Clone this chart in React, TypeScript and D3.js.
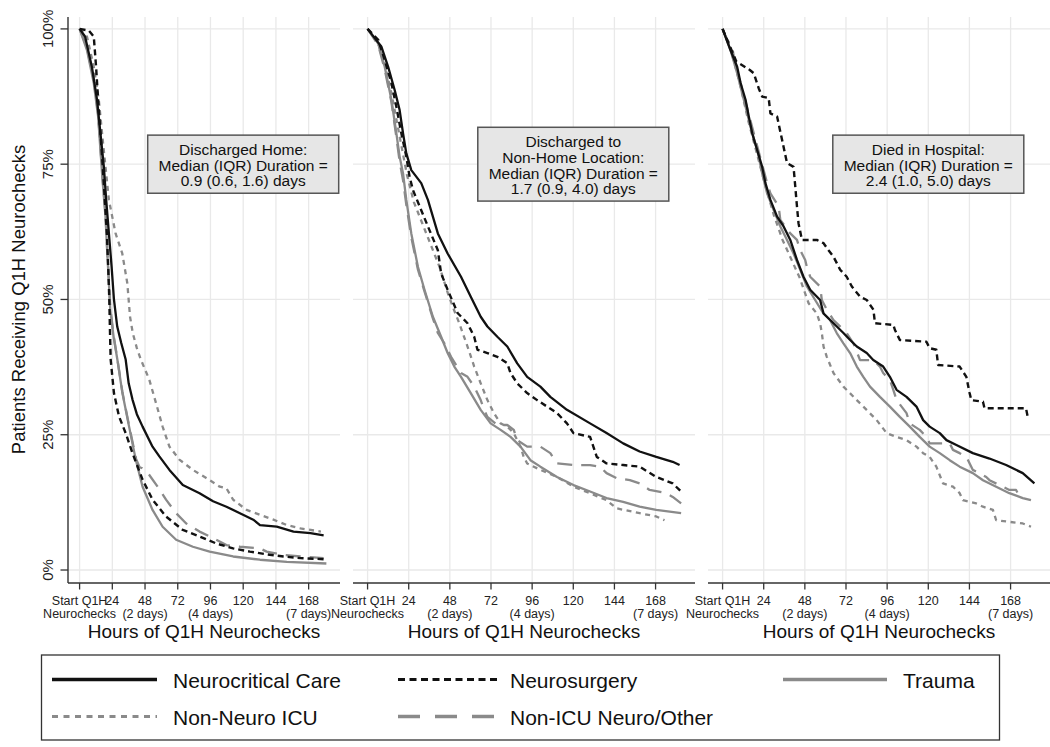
import React from "react";
import * as d3 from "d3";

// ---------- axis ticks ----------
const hourTicks = [0, 24, 48, 72, 96, 120, 144, 168];
const hourLabelTop = ["Start Q1H", "24", "48", "72", "96", "120", "144", "168"];
const hourLabelBottom = ["Neurochecks", "", "(2 days)", "", "(4 days)", "", "", "(7 days)"];
const pctTicks = [0, 25, 50, 75, 100];
const pctLabels = ["0%", "25%", "50%", "75%", "100%"];

const xTitle = "Hours of Q1H Neurochecks";
const yTitle = "Patients Receiving Q1H Neurochecks";

// ---------- series (hours, % still receiving) ----------
// Panel 1: Discharged Home
const homeNcc = [[0,100],[4,98.6],[9,93],[12.8,86.9],[15.3,80.7],[17.8,74.5],[19.5,68.4],[21.5,62.2],[23.5,56],[25.2,50],[27.6,45],[30.5,42],[33.8,38.9],[36,34.5],[38.8,31.5],[42,28.8],[46.2,26.5],[53.5,22.8],[58.5,21],[65.9,18.5],[75.7,15.7],[88,14.2],[97.9,12.7],[107.7,11.7],[117.6,10.5],[127.4,9.3],[132.3,8.3],[144.6,8],[156.9,7.1],[169.3,6.8],[179,6.4]];
const homeNs = [[0,100],[6.7,99.7],[10.4,98.6],[12.1,93],[13.6,86.9],[15.3,80.7],[17,74.5],[18.5,68.4],[20,62.2],[21,56],[21.8,50],[22.3,44],[22.8,38.9],[25.2,32.7],[28.9,28.4],[33.8,25.3],[38.8,21.6],[46.2,16.7],[53.5,13],[63.4,9.9],[75.7,7.4],[88,6.2],[100.3,4.9],[112.6,4],[124.9,3.4],[137.2,2.9],[149.6,2.5],[161.9,2.2],[179,2]];
const homeTr = [[0,100],[5.4,96.1],[10.4,90],[13.6,83.8],[15.3,77.6],[17,71.5],[19,65.3],[20.2,59.1],[21.5,53],[22.5,48],[25,43],[27.7,38.9],[31.4,32.7],[36.3,26.5],[41.2,20.4],[46.2,15.4],[53.5,11.1],[60.9,8],[70.8,5.6],[83.1,4.3],[95.4,3.4],[112.6,2.5],[132.3,1.9],[152,1.5],[181,1.2]];
const homeNni = [[0,100],[5.4,98.6],[10.4,93],[14.1,86.9],[16.5,80.7],[19,74.5],[21.5,68.4],[26.4,62.2],[31.3,58.5],[35,53],[37,46.8],[39,43.8],[42,41],[44.9,38.9],[51.1,35.2],[56,30.9],[60.9,26.5],[65.9,22.8],[73.2,20.4],[83.1,18.5],[92.9,17],[102.8,15.4],[107.7,15.1],[112.6,13],[122.5,11.1],[132.3,10.2],[142.2,9.3],[152,8.3],[161.9,7.7],[177,7.1]];
const homeNicu = [[0,100],[5.4,96.5],[10.4,90.5],[13.6,84.3],[15.3,78],[17,72],[19,65.8],[20.2,59.5],[21.5,53.5],[22.5,48.5],[25,43.3],[27.7,39],[31.4,32.9],[36.3,26.7],[41.5,20.5],[44,19],[46,18.8],[51,17.6],[57.2,15.4],[63.4,13],[70.8,10.5],[78.2,8.6],[88,7.1],[97.9,5.9],[107.7,4.6],[117.6,4.3],[132.3,4],[137.2,3.4],[149.6,2.8],[161.9,2.5],[179,2.2]];

// Panel 2: Discharged to Non-Home Location
const nonHomeNcc = [[0,100],[8.1,96.7],[12,93],[15.8,88.7],[18.7,85],[20.7,80.7],[22.6,77],[25.5,73.9],[31.3,71.5],[35.2,68.4],[41,62.2],[46.7,58.5],[54.5,54.2],[60.2,50.5],[66,46.8],[69.9,45],[75.7,43.1],[81.5,41.3],[87.3,38.2],[93.1,35.7],[100.8,33.9],[106.6,32],[116.3,29.6],[129.8,27.1],[139.4,25.3],[149.1,23.4],[158.7,21.9],[168.4,20.9],[178,20],[182,19.4]];
const nonHomeNs = [[0,100],[6.2,98],[10,94.3],[13.9,90],[16.8,85.6],[19.7,80.7],[22.6,76.4],[24.5,72.7],[26.5,70.2],[31.3,66.5],[35.2,63.5],[41,59.1],[42.9,54.8],[46.7,51.8],[52.5,47.5],[58.3,45.6],[62.2,43.1],[64.1,40.7],[69.9,40.1],[75.7,39.4],[81.5,38.2],[83.4,36.4],[87.3,34.5],[93.1,32.7],[98.9,31.4],[104.7,30.2],[110.5,29],[116.3,27.1],[120.1,25.3],[129.8,24.6],[131.7,22.8],[133.7,20.9],[139.4,19.7],[149.1,19.4],[158.7,19.1],[168.4,17.2],[178,16],[182.9,14.5]];
const nonHomeTr = [[0,100],[6.2,97.3],[10,93],[13.9,86.9],[16.8,80.7],[18.7,76.4],[20.7,73.3],[22.6,68.4],[25.5,62.2],[29.4,56],[33.2,51.8],[38.1,46.8],[42.9,43.1],[46.7,40.1],[50.6,37.6],[54.5,35.7],[60.2,32.7],[66,29.6],[71.8,27.1],[77.6,25.9],[83.4,24.6],[89.2,22.8],[95,20.3],[100.8,19.1],[110.5,17.2],[120.1,15.7],[129.8,14.5],[139.4,13.3],[149.1,12.6],[158.7,11.7],[168.4,11.1],[182.9,10.5]];
const nonHomeNni = [[0,100],[6,97.5],[10,93.5],[14,88],[17,83],[20,78],[23,73],[27,68],[32,64],[37,60],[42,56],[47,51],[50.5,48],[53.5,45.6],[58.3,41.3],[62.2,37.6],[66,34.5],[69.9,31.4],[73.7,29],[77.6,27.1],[81.5,26.5],[85.3,25.3],[89.2,22.8],[91.1,20.9],[93.1,19.7],[100.8,18.5],[110.5,17.2],[120.1,15.4],[129.8,14.2],[139.4,12.9],[145.2,11.4],[158.7,10.5],[168.4,9.9],[173.2,9.2]];
const nonHomeNicu = [[0,100],[6.2,97],[10,92.5],[13.9,86.5],[16.8,80],[18.7,75.5],[20.7,72],[22.6,67.5],[25.5,61.5],[29.4,55.5],[33.2,51.5],[38.1,46.5],[41,43.8],[44.8,41.9],[48.7,39.4],[54.5,36.4],[58.3,35.7],[62.2,33.9],[66,31.4],[68,29.6],[69.9,28.3],[75.7,26.8],[81.5,26.8],[85.3,25.9],[87.3,24],[93.1,22.8],[100.8,22.8],[106.6,21.6],[110.5,19.7],[120.1,19.4],[129.8,19.4],[135.6,19.1],[139.4,17.9],[145.2,17],[153,16.6],[158.7,16],[164.5,14.8],[174.2,14.2],[178,13.5],[182.9,12.3]];

// Panel 3: Died in Hospital
const diedNcc = [[0,100],[4.6,96.1],[8.5,93],[10.5,90],[13.4,86.9],[15.3,83.8],[17.3,80.7],[20.2,77.6],[23.1,74.5],[25,71.5],[27.9,68.4],[31.8,65.3],[35.6,63.5],[39.5,61],[43.4,57.3],[47.2,54.2],[51.1,51.8],[56.9,49.9],[58.9,47.4],[64.7,45.6],[70.5,43.8],[74.4,42.5],[78.3,41.3],[84.1,40.1],[87.9,38.8],[93.7,37.6],[97.6,35.7],[101.5,33.3],[107.3,32],[113.1,30.2],[117,27.7],[120.8,26.5],[126.7,25.3],[130.6,24],[136.4,23.1],[146,21.6],[155.7,20.6],[165.4,19.4],[175.1,17.9],[181.9,16]];
const diedNs = [[0,100],[4,97],[8,94],[15.9,92.4],[18.2,91.8],[21.1,89],[23.1,87.5],[26.9,87.2],[27.9,84.4],[31.8,83.8],[34.7,79.5],[37.6,75.2],[41.4,74.5],[42.4,70.9],[43.4,67.2],[44.3,64.1],[46.3,61],[55,61],[58.9,60.4],[61.8,59.1],[64.7,57.9],[68.6,55.5],[72.4,54.2],[75.4,52.4],[80.2,50.5],[84.1,49.9],[88,48.1],[88.9,45.6],[99.6,45.3],[100.5,44.4],[103.4,42.5],[118.9,42.2],[120.8,41],[124.7,40.7],[125.7,37.9],[138.3,37.6],[142.2,35.7],[144.1,32.7],[145.1,31.4],[151.9,31.1],[152.8,29.9],[177,29.9],[178,28.3]];
const diedTr = [[0,100],[4.6,96.1],[8.5,91.8],[12.4,86.9],[16.3,81.9],[20.2,77.6],[23.1,73.3],[26,69.6],[29.8,66.5],[33.7,63.5],[37.6,61],[41.4,58.5],[45.3,55.5],[49.2,52.4],[54,49.9],[58.9,47.4],[62.7,46.2],[66.6,43.8],[70.5,41.9],[74.4,40.1],[78.3,37.6],[82.1,35.7],[86,33.9],[91.8,32],[97.6,30.2],[103.4,28.3],[109.2,26.5],[115,24.6],[120.8,22.8],[126.7,21.6],[132.5,20.3],[138.3,19.1],[146,17.9],[151.9,16.6],[159.6,15.4],[167.3,14.2],[175.1,13.3],[179.9,12.9]];
const diedNni = [[0,100],[5,96],[10,90],[15,83],[20,77],[25,71],[30,65.5],[35,61],[40,57.5],[45,54],[50.2,49.3],[55,47.4],[56.9,45.6],[57.9,43.8],[58.9,41.3],[60.8,39.4],[64.7,36.4],[70.5,33.9],[78.3,31.4],[82.1,30.2],[89.9,27.7],[95.7,25.3],[101.5,24.6],[107.3,24],[113.1,22.8],[117,21.6],[120.8,20.9],[124.7,19.1],[128.6,16],[134.4,15.4],[138.3,14.2],[140.2,12.9],[148,12.3],[151.9,11.7],[157.7,11.1],[159.6,9.2],[175.1,8.6],[179.9,8]];
const diedNicu = [[0,100],[2.7,98],[5.6,96.7],[7.6,93],[10.5,90],[18.2,80.7],[26,71.5],[27.9,69.6],[32.7,67.2],[33.7,64.7],[39.5,62.2],[43.4,61],[45.3,59.1],[48.2,57.3],[49.2,56],[51.1,54.2],[56.9,52.4],[57.9,49.9],[60.8,48.1],[64.7,46.2],[72.4,43.8],[76.3,41.9],[80.2,38.8],[87.9,38.8],[91.8,37.6],[93.7,36.4],[97.6,35.1],[99.6,33.3],[101.5,31.4],[107.3,29],[109.2,27.1],[115,25.9],[118.9,24.6],[120.8,23.4],[132.5,23.4],[134.4,22.2],[138.3,21.6],[142.2,20.9],[146,18.5],[149.9,17.9],[153.8,17.2],[155.7,16.6],[163.4,15.4],[167.3,14.8],[171.2,14.8],[172.2,14.2],[175.1,13.5]];

// ---------- annotation texts ----------
const homeNote = ["Discharged Home:", "Median (IQR) Duration =", "0.9 (0.6, 1.6) days"];
const nonHomeNote = ["Discharged to", "Non-Home Location:", "Median (IQR) Duration =", "1.7 (0.9, 4.0) days"];
const diedNote = ["Died in Hospital:", "Median (IQR) Duration =", "2.4 (1.0, 5.0) days"];

const seriesKeys = ["tr", "nicu", "nni", "ns", "ncc"];
const legendRow1 = ["ncc", "ns", "tr"];
const legendRow2 = ["nni", "nicu"];
const seriesNames: Record<string, string> = {
  ncc: "Neurocritical Care",
  ns: "Neurosurgery",
  tr: "Trauma",
  nni: "Non-Neuro ICU",
  nicu: "Non-ICU Neuro/Other",
};

const GREY = "#8a8a8a";
const styles: Record<string, { color: string; dash?: string; legendDash?: string; width: number; legendWidth: number }> = {
  ncc: { color: "#111", width: 2.3, legendWidth: 3.5 },
  ns: { color: "#111", dash: "6,4", legendDash: "7,4.5", width: 2.4, legendWidth: 3.2 },
  tr: { color: GREY, width: 2.3, legendWidth: 3.3 },
  nni: { color: GREY, dash: "5,4.5", legendDash: "6,5.5", width: 2.3, legendWidth: 3.2 },
  nicu: { color: GREY, dash: "15,9", legendDash: "22,15", width: 2.3, legendWidth: 3.3 },
};

const FONT = "'Liberation Sans', Arial, Helvetica, sans-serif";

export default function App() {
  const W = 1050;
  const H = 747;
  const plotTop = 17;
  const plotBottom = 583;
  const y = d3.scaleLinear().domain([-2.4, 102.2]).range([plotBottom, plotTop]);

  const panels = [
    { left: 68, right: 340, note: homeNote, data: { ncc: homeNcc, ns: homeNs, tr: homeTr, nni: homeNni, nicu: homeNicu } as Record<string, number[][]> },
    { left: 353, right: 695, note: nonHomeNote, data: { ncc: nonHomeNcc, ns: nonHomeNs, tr: nonHomeTr, nni: nonHomeNni, nicu: nonHomeNicu } as Record<string, number[][]> },
    { left: 708, right: 1050, note: diedNote, data: { ncc: diedNcc, ns: diedNs, tr: diedTr, nni: diedNni, nicu: diedNicu } as Record<string, number[][]> },
  ];

  const lineH = 15.7;

  return (
    <svg width={W} height={H} style={{ position: "absolute", left: 0, top: 0, background: "#fff" }} fontFamily={FONT}>
      <rect x={0} y={0} width={W} height={H} fill="#fff" />
      {panels.map((p, pi) => {
        const x = d3.scaleLinear().domain([-8.5, 191]).range([p.left, p.right]);
        const line = d3.line<number[]>().x((d) => x(d[0])).y((d) => y(d[1]));
        const boxW = 191;
        const boxH = p.note.length * lineH + 11;
        const cx = x(120);
        const cy = y(75);
        return (
          <g key={pi}>
            {/* grid */}
            {pctTicks.map((t) => (
              <line key={"h" + t} x1={p.left} x2={p.right} y1={y(t)} y2={y(t)} stroke="#e9e9e9" strokeWidth={1.3} />
            ))}
            {hourTicks.map((t) => (
              <line key={"v" + t} x1={x(t)} x2={x(t)} y1={plotTop} y2={plotBottom} stroke="#e9e9e9" strokeWidth={1.3} />
            ))}
            {/* curves */}
            {seriesKeys.map((k) => (
              <path
                key={k}
                d={line(p.data[k]) || ""}
                fill="none"
                stroke={styles[k].color}
                strokeWidth={styles[k].width}
                strokeDasharray={styles[k].dash}
                strokeLinejoin="round"
              />
            ))}
            {/* x axis */}
            <line x1={p.left} x2={p.right} y1={plotBottom} y2={plotBottom} stroke="#333" strokeWidth={1.4} />
            {hourTicks.map((t, i) => (
              <g key={"xt" + t}>
                <line x1={x(t)} x2={x(t)} y1={plotBottom} y2={plotBottom + 6.5} stroke="#333" strokeWidth={1.3} />
                <text x={x(t)} y={605} textAnchor="middle" fontSize={12.5} fill="#222">{hourLabelTop[i]}</text>
                {hourLabelBottom[i] && (
                  <text x={x(t)} y={618} textAnchor="middle" fontSize={12.5} fill="#222">{hourLabelBottom[i]}</text>
                )}
              </g>
            ))}
            <text x={(p.left + p.right) / 2} y={638} textAnchor="middle" fontSize={19} fill="#111">{xTitle}</text>
            {/* y axis on first panel */}
            {pi === 0 && (
              <g>
                <line x1={p.left} x2={p.left} y1={plotTop} y2={plotBottom} stroke="#333" strokeWidth={1.4} />
                {pctTicks.map((t, i) => (
                  <g key={"yt" + t}>
                    <line x1={p.left - 7.5} x2={p.left} y1={y(t)} y2={y(t)} stroke="#333" strokeWidth={1.3} />
                    <text transform={`translate(${p.left - 15},${y(t)}) rotate(-90)`} textAnchor="middle" fontSize={15} fill="#222">{pctLabels[i]}</text>
                  </g>
                ))}
                <text transform={`translate(25,${y(50)}) rotate(-90)`} textAnchor="middle" fontSize={18.5} fill="#111">{yTitle}</text>
              </g>
            )}
            {/* annotation box */}
            <rect x={cx - boxW / 2} y={cy - boxH / 2} width={boxW} height={boxH} fill="#e6e6e6" stroke="#555" strokeWidth={1.5} />
            {p.note.map((s, i) => (
              <text key={i} x={cx} y={cy + (i - (p.note.length - 1) / 2) * lineH + 6.5} textAnchor="middle" fontSize={15.5} fill="#111">{s}</text>
            ))}
          </g>
        );
      })}
      {/* legend */}
      <g>
        <rect x={41.5} y={655} width={958} height={85} fill="#fff" stroke="#333" strokeWidth={1.3} />
        {[legendRow1, legendRow2].map((row, ri) => {
          const ly = ri === 0 ? 679.5 : 716.5;
          const cols = [
            { x1: 52, x2: 157, tx: 173 },
            { x1: 398, x2: 500, tx: 510 },
            { x1: 783, x2: 887, tx: 903 },
          ];
          return row.map((k, ci) => (
            <g key={k}>
              <line x1={cols[ci].x1} x2={cols[ci].x2} y1={ly} y2={ly} stroke={styles[k].color} strokeWidth={styles[k].legendWidth} strokeDasharray={styles[k].legendDash} />
              <text x={cols[ci].tx} y={ly + 8} fontSize={21} fill="#111">{seriesNames[k]}</text>
            </g>
          ));
        })}
      </g>
    </svg>
  );
}
